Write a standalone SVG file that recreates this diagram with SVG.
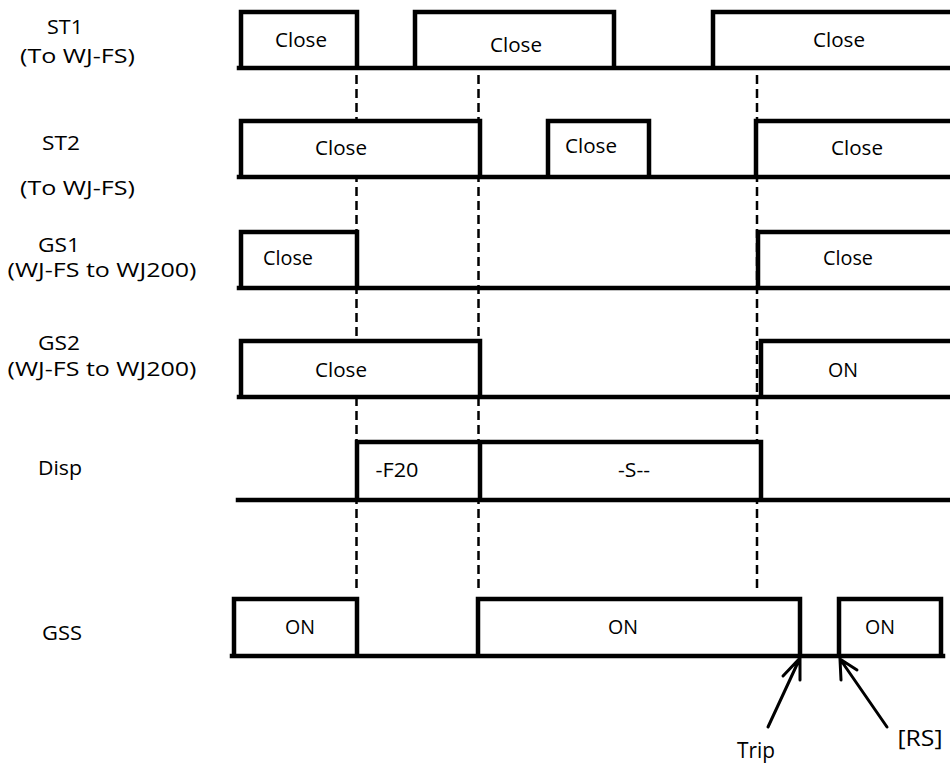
<svg xmlns="http://www.w3.org/2000/svg" width="950" height="766" viewBox="0 0 950 766">
<style>
  .w { fill: #fff; stroke: #000; stroke-width: 4.5; stroke-linejoin: miter; stroke-linecap: square; }
  .d { fill: none; stroke: #000; stroke-width: 2.5; stroke-dasharray: 9 5; }
  .a { fill: none; stroke: #000; stroke-width: 3; stroke-linecap: round; stroke-linejoin: miter; }
  text { font-family: "Open Sans", "DejaVu Sans", sans-serif; fill: #000; text-anchor: middle; }
  .lb { font-size: 20px; }
  .bx { font-size: 20px; }
  .ar { font-size: 21px; }
</style>
<rect width="950" height="766" fill="#fff"/>

<g id="connectors">
  <line class="d" x1="356.5" y1="75" x2="356.5" y2="593"/>
  <line class="d" x1="478.5" y1="75" x2="478.5" y2="593"/>
  <line class="d" x1="757" y1="75" x2="757" y2="593"/>
  <path class="a" d="M768,727 L800,658 M783,676 L800,658 L800,680"/>
  <path class="a" d="M887,727 L840,659 M857,670 L840,659 L841,680"/>
</g>

<g id="st1">
  <text class="lb" x="65" y="33.5" textLength="36" lengthAdjust="spacingAndGlyphs">ST1</text>
  <text class="lb" x="77.5" y="62.5" textLength="115" lengthAdjust="spacingAndGlyphs">(To WJ-FS)</text>
  <path class="w" d="M239,68 H955 M241,68 V12 H357 V68 M415,68 V12 H614 V68 M713,68 V12 H955 V68"/>
  <text class="bx" x="301" y="47" textLength="52" lengthAdjust="spacingAndGlyphs">Close</text>
  <text class="bx" x="516" y="52" textLength="52" lengthAdjust="spacingAndGlyphs">Close</text>
  <text class="bx" x="839" y="47" textLength="52" lengthAdjust="spacingAndGlyphs">Close</text>
</g>

<g id="st2">
  <text class="lb" x="61" y="150" textLength="38" lengthAdjust="spacingAndGlyphs">ST2</text>
  <text class="lb" x="77.5" y="195" textLength="115" lengthAdjust="spacingAndGlyphs">(To WJ-FS)</text>
  <path class="w" d="M239,177 H955 M241,177 V121 H480 V177 M548,177 V121 H649 V177 M756,177 V121 H955 V177"/>
  <text class="bx" x="341" y="155" textLength="52" lengthAdjust="spacingAndGlyphs">Close</text>
  <text class="bx" x="591" y="153" textLength="52" lengthAdjust="spacingAndGlyphs">Close</text>
  <text class="bx" x="857" y="155" textLength="52" lengthAdjust="spacingAndGlyphs">Close</text>
</g>

<g id="gs1">
  <text class="lb" x="59" y="252" textLength="42" lengthAdjust="spacingAndGlyphs">GS1</text>
  <text class="lb" x="102" y="277" textLength="189" lengthAdjust="spacingAndGlyphs">(WJ-FS to WJ200)</text>
  <path class="w" d="M239,288 H955 M241,288 V232 H357 V288 M758,288 V232 H955 V288"/>
  <text class="bx" x="288" y="265" textLength="50" lengthAdjust="spacingAndGlyphs">Close</text>
  <text class="bx" x="848" y="265" textLength="50" lengthAdjust="spacingAndGlyphs">Close</text>
</g>

<g id="gs2">
  <text class="lb" x="59" y="350" textLength="42" lengthAdjust="spacingAndGlyphs">GS2</text>
  <text class="lb" x="102" y="376" textLength="189" lengthAdjust="spacingAndGlyphs">(WJ-FS to WJ200)</text>
  <path class="w" d="M239,397 H955 M241,397 V341 H480 V397 M761,397 V341 H955 V397"/>
  <text class="bx" x="341" y="377" textLength="52" lengthAdjust="spacingAndGlyphs">Close</text>
  <text class="bx" x="843" y="377" textLength="30" lengthAdjust="spacingAndGlyphs">ON</text>
</g>

<g id="disp">
  <text class="lb" x="60" y="475" textLength="44" lengthAdjust="spacingAndGlyphs">Disp</text>
  <path class="w" d="M238,500 H955 M357,500 V442 H761 V500 M480,442 V500"/>
  <text class="bx" x="397" y="477" textLength="43" lengthAdjust="spacingAndGlyphs">-F20</text>
  <text class="bx" x="634" y="477" textLength="32" lengthAdjust="spacingAndGlyphs">-S--</text>
</g>

<g id="gss">
  <text class="lb" x="62" y="640" textLength="40" lengthAdjust="spacingAndGlyphs">GSS</text>
  <path class="w" d="M232,656 H943 M234,656 V599 H357 V656 M478,656 V599 H800 V656 M839,656 V599 H941 V656"/>
  <text class="bx" x="300" y="634" textLength="30" lengthAdjust="spacingAndGlyphs">ON</text>
  <text class="bx" x="623" y="634" textLength="30" lengthAdjust="spacingAndGlyphs">ON</text>
  <text class="bx" x="880" y="634" textLength="30" lengthAdjust="spacingAndGlyphs">ON</text>
</g>

<g id="labels">
  <text class="ar" x="756" y="758" textLength="38" lengthAdjust="spacingAndGlyphs">Trip</text>
  <text class="ar" x="920" y="746" textLength="45" lengthAdjust="spacingAndGlyphs">[RS]</text>
</g>
</svg>
